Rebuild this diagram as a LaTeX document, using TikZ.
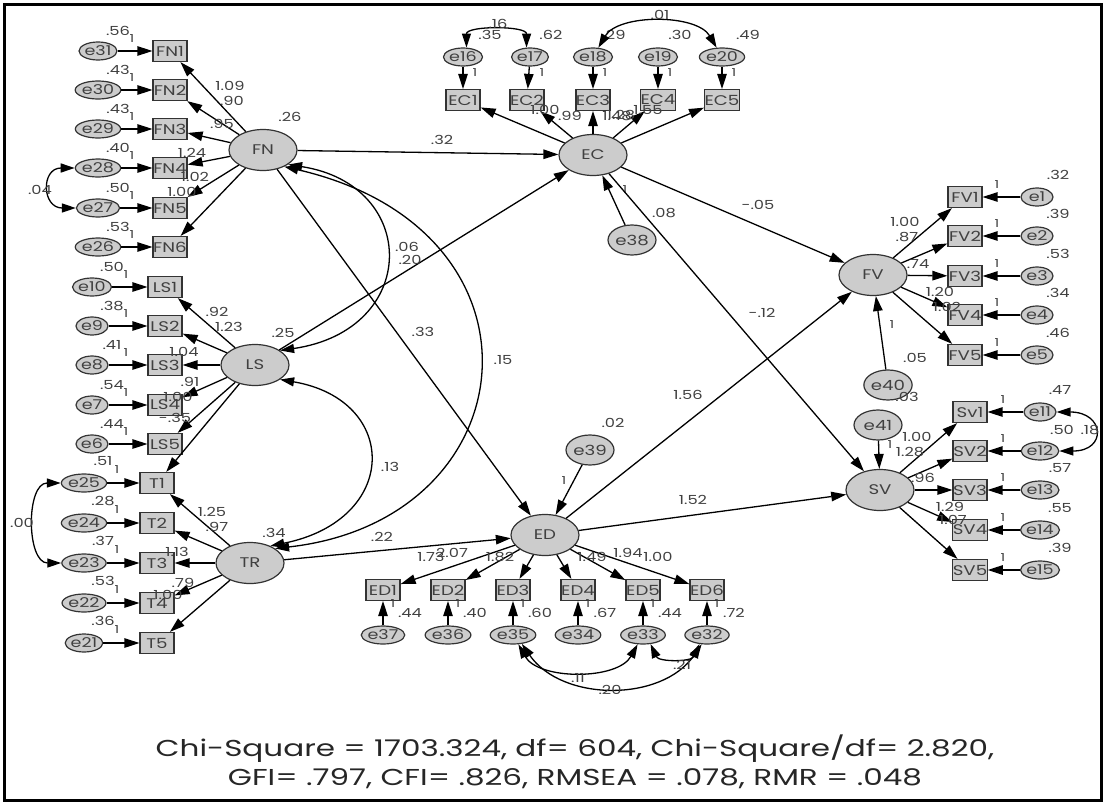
\documentclass[tikz,border=0pt]{standalone}
\usepackage{fontspec}
\setmainfont{Poppins}[FakeStretch=1.3]
\newfontfamily\fitfont{Poppins}[FakeStretch=1.35]
\usetikzlibrary{shapes.geometric,arrows.meta}

\begin{document}
\begin{tikzpicture}[x=1pt, y=-1pt,
    every node/.style={font=\fontsize{12.5}{13}\selectfont, text=black!75},
    lat/.style={ellipse, draw=black!80, line width=1.2pt, fill=black!20, minimum width=68pt, minimum height=41pt, inner sep=0pt, font=\fontsize{14}{15}\selectfont},
    obs/.style={rectangle, draw=black!80, line width=1.2pt, fill=black!20, minimum width=34pt, minimum height=21pt, inner sep=0pt, font=\fontsize{14}{15}\selectfont},
    err/.style={ellipse, draw=black!80, line width=1.2pt, fill=black!20, minimum width=32pt, minimum height=18pt, inner sep=0pt, font=\fontsize{13.5}{14}\selectfont},
    dis/.style={ellipse, draw=black!80, line width=1.2pt, fill=black!20, minimum width=48pt, minimum height=30pt, inner sep=0pt, font=\fontsize{14}{15}\selectfont},
    num/.style={inner sep=0pt},
    one/.style={inner sep=0pt, font=\fontsize{11}{12}\selectfont},
    arr/.style={draw=black, line width=1.3pt, -{Triangle[length=15pt, width=9.5pt]}},
    cov/.style={draw=black, line width=1.3pt, {Triangle[length=14pt, width=9pt]}-{Triangle[length=14pt, width=9pt]}}]
\useasboundingbox (0,0) rectangle (1106,803);
\draw[line width=3pt] (4,4) rectangle (1101,800);

% FN
\node[err] (e31) at (98,51) {e31};
\node[err] (e30) at (98,90) {e30};
\node[err] (e29) at (98,129) {e29};
\node[err] (e28) at (98,168) {e28};
\node[err] (e27) at (98,208) {e27};
\node[err] (e26) at (98,247) {e26};
\node[obs] (FN1) at (170,51) {FN1};
\node[obs] (FN2) at (170,90) {FN2};
\node[obs] (FN3) at (170,129) {FN3};
\node[obs] (FN4) at (170,168) {FN4};
\node[obs] (FN5) at (170,208) {FN5};
\node[obs] (FN6) at (170,247) {FN6};
\node[lat] (FN) at (263,150) {FN};
\node[num] (v31) at (118,31) {.56};
\node[num] (v30) at (118,70) {.43};
\node[num] (v29) at (118,109) {.43};
\node[num] (v28) at (118,148) {.40};
\node[num] (v27) at (118,188) {.50};
\node[num] (v26) at (118,227) {.53};
\node[one] (o31) at (132,39) {1};
\node[one] (o30) at (132,78) {1};
\node[one] (o29) at (132,117) {1};
\node[one] (o28) at (132,156) {1};
\node[one] (o27) at (132,196) {1};
\node[one] (o26) at (132,235) {1};
\draw[arr] (e31) -- (FN1);
\draw[arr] (e30) -- (FN2);
\draw[arr] (e29) -- (FN3);
\draw[arr] (e28) -- (FN4);
\draw[arr] (e27) -- (FN5);
\draw[arr] (e26) -- (FN6);
\draw[arr] (FN) -- (FN1);
\draw[arr] (FN) -- (FN2);
\draw[arr] (FN) -- (FN3);
\draw[arr] (FN) -- (FN4);
\draw[arr] (FN) -- (FN5);
\draw[arr] (FN) -- (FN6);
\draw[cov] (e28.west) .. controls +(-34,0) and +(-34,0) .. (e27.west);
\node[num] (c2827) at (40,190) {.04};
\node[num] (lFN1) at (230,86) {1.09};
\node[num] (lFN2) at (232,101) {.90};
\node[num] (lFN3) at (222,124) {.95};
\node[num] (lFN4) at (192,153) {1.24};
\node[num] (lFN5) at (195,177) {1.02};
\node[num] (lFN6) at (182,192) {1.00};
\node[num] (vFN) at (290,117) {.26};

% LS
\node[err] (e10) at (92,287) {e10};
\node[err] (e9) at (92,326) {e9};
\node[err] (e8) at (92,365) {e8};
\node[err] (e7) at (92,405) {e7};
\node[err] (e6) at (92,444) {e6};
\node[obs] (LS1) at (165,287) {LS1};
\node[obs] (LS2) at (165,326) {LS2};
\node[obs] (LS3) at (165,365) {LS3};
\node[obs] (LS4) at (165,405) {LS4};
\node[obs] (LS5) at (165,444) {LS5};
\node[lat] (LS) at (255,365) {LS};
\node[num] (v10) at (112,267) {.50};
\node[num] (v9) at (112,306) {.38};
\node[num] (v8) at (112,345) {.41};
\node[num] (v7) at (112,385) {.54};
\node[num] (v6) at (112,424) {.44};
\node[one] (o10) at (126,275) {1};
\node[one] (o9) at (126,314) {1};
\node[one] (o8) at (126,353) {1};
\node[one] (o7) at (126,393) {1};
\node[one] (o6) at (126,432) {1};
\draw[arr] (e10) -- (LS1);
\draw[arr] (e9) -- (LS2);
\draw[arr] (e8) -- (LS3);
\draw[arr] (e7) -- (LS4);
\draw[arr] (e6) -- (LS5);
\draw[arr] (LS) -- (LS1);
\draw[arr] (LS) -- (LS2);
\draw[arr] (LS) -- (LS3);
\draw[arr] (LS) -- (LS4);
\draw[arr] (LS) -- (LS5);
\node[num] (lLS1) at (217,312) {.92};
\node[num] (lLS2) at (229,327) {1.23};
\node[num] (lLS3) at (184,352) {1.04};
\node[num] (lLS4) at (190,382) {.91};
\node[num] (lLS5) at (178,397) {1.00};
\node[num] (vLS) at (283,333) {.25};

% TR
\node[err] (e25) at (84,483) {e25};
\node[err] (e24) at (84,523) {e24};
\node[err] (e23) at (84,563) {e23};
\node[err] (e22) at (84,603) {e22};
\node[err] (e21) at (84,643) {e21};
\node[obs] (T1) at (157,483) {T1};
\node[obs] (T2) at (157,523) {T2};
\node[obs] (T3) at (157,563) {T3};
\node[obs] (T4) at (157,603) {T4};
\node[obs] (T5) at (157,643) {T5};
\node[lat] (TR) at (250,563) {TR};
\node[num] (v25) at (103,461) {.51};
\node[num] (v24) at (103,501) {.28};
\node[num] (v23) at (103,541) {.37};
\node[num] (v22) at (103,581) {.53};
\node[num] (v21) at (103,621) {.36};
\node[one] (o25) at (117,470) {1};
\node[one] (o24) at (117,510) {1};
\node[one] (o23) at (117,550) {1};
\node[one] (o22) at (117,590) {1};
\node[one] (o21) at (117,630) {1};
\draw[arr] (e25) -- (T1);
\draw[arr] (e24) -- (T2);
\draw[arr] (e23) -- (T3);
\draw[arr] (e22) -- (T4);
\draw[arr] (e21) -- (T5);
\draw[arr] (TR) -- (T1);
\draw[arr] (TR) -- (T2);
\draw[arr] (TR) -- (T3);
\draw[arr] (TR) -- (T4);
\draw[arr] (TR) -- (T5);
\draw[arr] (LS) -- (T1);
\node[num] (lLST1) at (175,418) {-.35};
\draw[cov] (e25.west) .. controls +(-35,0) and +(-35,0) .. (e23.west);
\node[num] (c2523) at (22,523) {.00};
\node[num] (lT1) at (212,512) {1.25};
\node[num] (lT2) at (217,527) {.97};
\node[num] (lT3) at (177,552) {1.13};
\node[num] (lT4) at (183,583) {.79};
\node[num] (lT5) at (168,595) {1.00};
\node[num] (vTR) at (274,533) {.34};

% EC
\node[err] (e16) at (463,57) {e16};
\node[err] (e17) at (530,57) {e17};
\node[err] (e18) at (593,57) {e18};
\node[err] (e19) at (658,57) {e19};
\node[err] (e20) at (722,57) {e20};
\node[obs] (EC1) at (463,100) {EC1};
\node[obs] (EC2) at (527,100) {EC2};
\node[obs] (EC3) at (593,100) {EC3};
\node[obs] (EC4) at (658,100) {EC4};
\node[obs] (EC5) at (722,100) {EC5};
\node[lat] (EC) at (593,155) {EC};
\node[dis] (e38) at (632,240) {e38};
\node[num] (v16) at (490,35) {.35};
\node[num] (v17) at (551,35) {.62};
\node[num] (v18) at (614,35) {.29};
\node[num] (v19) at (680,35) {.30};
\node[num] (v20) at (748,35) {.49};
\node[one] (o16) at (475,73) {1};
\node[one] (o17) at (542,73) {1};
\node[one] (o18) at (605,73) {1};
\node[one] (o19) at (670,73) {1};
\node[one] (o20) at (734,73) {1};
\draw[arr] (e16) -- (EC1);
\draw[arr] (e17) -- (EC2);
\draw[arr] (e18) -- (EC3);
\draw[arr] (e19) -- (EC4);
\draw[arr] (e20) -- (EC5);
\draw[arr] (EC) -- (EC1);
\draw[arr] (EC) -- (EC2);
\draw[arr] (EC) -- (EC3);
\draw[arr] (EC) -- (EC4);
\draw[arr] (EC) -- (EC5);
\draw[cov] (e16.70) .. controls +(0,-22) and +(0,-22) .. (e17.110);
\draw[cov] (e18.60) .. controls +(20,-34) and +(-20,-34) .. (e20.120);
\node[num] (c1617) at (498,24) {.16};
\node[num] (c1820) at (660,15) {.01};
\node[num] (lEC1) at (545,110) {1.00};
\node[num] (lEC2) at (570,116) {.99};
\node[num] (lEC3) at (617,116) {1.48};
\node[num] (lEC4) at (621,115) {1.28};
\node[num] (lEC5) at (648,110) {1.55};
\draw[arr] (e38) -- (EC);
\node[one] (o38) at (625,190) {1};
\node[num] (v38) at (664,213) {.08};

% FV
\node[lat] (FV) at (873,275) {FV};
\node[obs] (FV1) at (965,197) {FV1};
\node[obs] (FV2) at (965,236) {FV2};
\node[obs] (FV3) at (965,276) {FV3};
\node[obs] (FV4) at (965,315) {FV4};
\node[obs] (FV5) at (965,355) {FV5};
\node[err] (e1) at (1037,197) {e1};
\node[err] (e2) at (1037,236) {e2};
\node[err] (e3) at (1037,276) {e3};
\node[err] (e4) at (1037,315) {e4};
\node[err] (e5) at (1037,355) {e5};
\node[num] (v1) at (1058,175) {.32};
\node[num] (v2) at (1058,214) {.39};
\node[num] (v3) at (1058,254) {.53};
\node[num] (v4) at (1058,293) {.34};
\node[num] (v5) at (1058,333) {.46};
\node[one] (o1) at (997,185) {1};
\node[one] (o2) at (997,224) {1};
\node[one] (o3) at (997,264) {1};
\node[one] (o4) at (997,303) {1};
\node[one] (o5) at (997,343) {1};
\draw[arr] (e1) -- (FV1);
\draw[arr] (e2) -- (FV2);
\draw[arr] (e3) -- (FV3);
\draw[arr] (e4) -- (FV4);
\draw[arr] (e5) -- (FV5);
\draw[arr] (FV) -- (FV1);
\draw[arr] (FV) -- (FV2);
\draw[arr] (FV) -- (FV3);
\draw[arr] (FV) -- (FV4);
\draw[arr] (FV) -- (FV5);
\node[num] (lFV1) at (905,222) {1.00};
\node[num] (lFV2) at (907,237) {.87};
\node[num] (lFV3) at (918,264) {.74};
\node[num] (lFV4) at (940,292) {1.20};
\node[num] (lFV5) at (947,307) {1.02};
\node[dis] (e40) at (888,385) {e40};
\draw[arr] (e40) -- (FV);
\node[one] (o40) at (892,325) {1};
\node[num] (v40) at (915,358) {.05};

% SV
\node[lat] (SV) at (880,490) {SV};
\node[obs] (SV1) at (970,412) {Sv1};
\node[obs] (SV2) at (970,451) {SV2};
\node[obs] (SV3) at (970,490) {SV3};
\node[obs] (SV4) at (970,530) {SV4};
\node[obs] (SV5) at (970,570) {SV5};
\node[err] (e11) at (1040,412) {e11};
\node[err] (e12) at (1040,451) {e12};
\node[err] (e13) at (1040,490) {e13};
\node[err] (e14) at (1040,530) {e14};
\node[err] (e15) at (1040,570) {e15};
\node[num] (v11) at (1060,390) {.47};
\node[num] (v12) at (1062,430) {.50};
\node[num] (v13) at (1060,468) {.57};
\node[num] (v14) at (1060,508) {.55};
\node[num] (v15) at (1060,548) {.39};
\node[one] (o11) at (1003,400) {1};
\node[one] (o12) at (1003,439) {1};
\node[one] (o13) at (1003,478) {1};
\node[one] (o14) at (1003,518) {1};
\node[one] (o15) at (1003,558) {1};
\draw[arr] (e11) -- (SV1);
\draw[arr] (e12) -- (SV2);
\draw[arr] (e13) -- (SV3);
\draw[arr] (e14) -- (SV4);
\draw[arr] (e15) -- (SV5);
\draw[arr] (SV) -- (SV1);
\draw[arr] (SV) -- (SV2);
\draw[arr] (SV) -- (SV3);
\draw[arr] (SV) -- (SV4);
\draw[arr] (SV) -- (SV5);
\draw[cov] (e11.east) .. controls +(48,0) and +(48,0) .. (e12.east);
\node[num] (c1112) at (1090,430) {.18};
\node[num] (lSV1) at (917,437) {1.00};
\node[num] (lSV2) at (910,452) {1.28};
\node[num] (lSV3) at (923,478) {.96};
\node[num] (lSV4) at (950,507) {1.29};
\node[num] (lSV5) at (953,520) {1.07};
\node[dis] (e41) at (878,425) {e41};
\draw[arr] (e41) -- (SV);
\node[one] (o41) at (890,445) {1};
\node[num] (v41) at (907,397) {.03};

% ED
\node[lat] (ED) at (545,535) {ED};
\node[dis] (e39) at (590,450) {e39};
\node[obs] (ED1) at (383,590) {ED1};
\node[obs] (ED2) at (448,590) {ED2};
\node[obs] (ED3) at (513,590) {ED3};
\node[obs] (ED4) at (578,590) {ED4};
\node[obs] (ED5) at (643,590) {ED5};
\node[obs] (ED6) at (707,590) {ED6};
\node[err] (e37) at (383,635) {e37};
\node[err] (e36) at (448,635) {e36};
\node[err] (e35) at (513,635) {e35};
\node[err] (e34) at (578,635) {e34};
\node[err] (e33) at (643,635) {e33};
\node[err] (e32) at (707,635) {e32};
\node[num] (v37) at (410,613) {.44};
\node[num] (v36) at (475,613) {.40};
\node[num] (v35) at (540,613) {.60};
\node[num] (v34) at (605,613) {.67};
\node[num] (v33) at (670,613) {.44};
\node[num] (v32) at (734,613) {.72};
\node[one] (o37) at (393,604) {1};
\node[one] (o36) at (458,604) {1};
\node[one] (o35) at (523,604) {1};
\node[one] (o34) at (588,604) {1};
\node[one] (o33) at (653,604) {1};
\node[one] (o32) at (717,604) {1};
\draw[arr] (e37) -- (ED1);
\draw[arr] (e36) -- (ED2);
\draw[arr] (e35) -- (ED3);
\draw[arr] (e34) -- (ED4);
\draw[arr] (e33) -- (ED5);
\draw[arr] (e32) -- (ED6);
\draw[arr] (ED) -- (ED1);
\draw[arr] (ED) -- (ED2);
\draw[arr] (ED) -- (ED3);
\draw[arr] (ED) -- (ED4);
\draw[arr] (ED) -- (ED5);
\draw[arr] (ED) -- (ED6);
\draw[cov] (e35.-60) .. controls +(20,36) and +(-20,36) .. (e33.-120);
\draw[cov] (e35.-45) .. controls +(40,58) and +(-40,58) .. (e32.-120);
\draw[cov] (e33.-50) .. controls +(8,18) and +(-8,18) .. (e32.-130);
\node[num] (c3533) at (578,678) {.11};
\node[num] (c3532) at (610,690) {.20};
\node[num] (c3332) at (682,665) {.21};
\node[num] (lED1) at (431,557) {1.73};
\node[num] (lED2) at (452,553) {2.07};
\node[num] (lED3) at (500,557) {1.82};
\node[num] (lED4) at (592,557) {1.49};
\node[num] (lED5) at (628,553) {1.94};
\node[num] (lED6) at (658,557) {1.00};
\draw[arr] (e39) -- (ED);
\node[one] (o39) at (564,481) {1};
\node[num] (v39) at (613,423) {.02};

% structural paths
\draw[arr] (FN) -- (EC);
\draw[arr] (LS) -- (EC);
\draw[arr] (FN) -- (ED);
\draw[arr] (TR) -- (ED);
\draw[arr] (EC) -- (FV);
\draw[arr] (EC) -- (SV);
\draw[arr] (ED) -- (FV);
\draw[arr] (ED) -- (SV);
\draw[cov] (FN.-30) .. controls (420,185) and (420,330) .. (LS.30);
\draw[cov] (FN.-38) .. controls (560,230) and (530,520) .. (TR.30);
\draw[cov] (LS.-30) .. controls (400,400) and (400,520) .. (TR.40);
\node[num] (pFNEC) at (442,140) {.32};
\node[num] (pLSEC) at (410,260) {.20};
\node[num] (cFNLS) at (407,247) {.06};
\node[num] (pFNED) at (423,332) {.33};
\node[num] (cFNTR) at (503,360) {.15};
\node[num] (cLSTR) at (390,467) {.13};
\node[num] (pTRED) at (382,537) {.22};
\node[num] (pECFV) at (758,205) {-.05};
\node[num] (pECSV) at (762,313) {-.12};
\node[num] (pEDFV) at (688,395) {1.56};
\node[num] (pEDSV) at (693,500) {1.52};

% fit
\node[text=black!85, font=\fitfont\fontsize{23}{29}\selectfont, align=center] (fit) at (575,762)
  {Chi-Square = 1703.324, df= 604, Chi-Square/df= 2.820,\\ GFI= .797, CFI= .826, RMSEA = .078, RMR = .048};
\end{tikzpicture}
\end{document}
